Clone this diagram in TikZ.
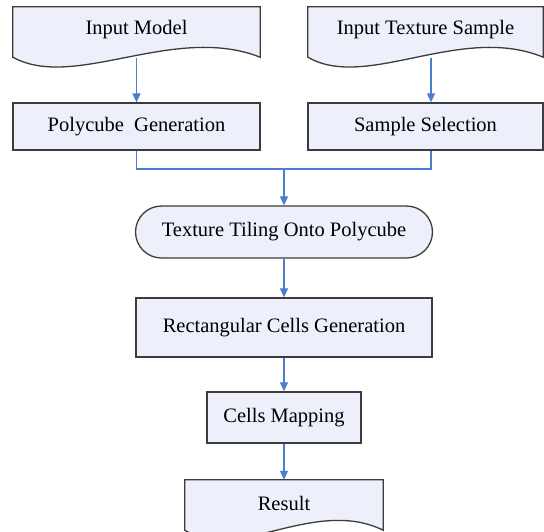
\documentclass[tikz,border=0pt]{standalone}
\usepackage{fontspec}
\setmainfont{Liberation Serif}
\usetikzlibrary{arrows.meta,calc,backgrounds}
\definecolor{boxfill}{RGB}{237,239,250}
\definecolor{boxline}{RGB}{60,60,60}
\definecolor{flowblue}{RGB}{77,125,208}

\begin{document}
\begin{tikzpicture}[x=1pt,y=-1pt,
        every node/.style={font=\fontsize{20.5}{24}\selectfont},
        proc/.style={draw=boxline,line width=1.3pt,fill=boxfill,inner sep=0pt},
        docbox/.style={inner sep=0pt},
        term/.style={proc,rounded corners=26pt},
        flow/.style={draw=flowblue,line width=1.2pt,-{Triangle[width=8pt,length=9pt]}},
        link/.style={draw=flowblue,line width=1.2pt}]
        \useasboundingbox (0,0) rectangle (544,531);
        % inputs
        \node[docbox,minimum width=247pt,minimum height=46pt] (model) at (136.5,30) {Input Model};
        \node[docbox,minimum width=235pt,minimum height=46pt] (texture) at (425.5,30) {Input Texture Sample};
        \node[proc,minimum width=247pt,minimum height=47pt] (poly) at (136.5,126.5) {Polycube~ Generation};
        \node[proc,minimum width=235pt,minimum height=47pt] (sample) at (425.5,126.5) {Sample Selection};
        % main chain
        \node[term,minimum width=297pt,minimum height=52pt] (tiling) at (284,232) {Texture Tiling Onto Polycube};
        \node[proc,minimum width=296pt,minimum height=59pt] (cells) at (284,327.5) {Rectangular Cells Generation};
        \node[proc,minimum width=154pt,minimum height=51pt] (mapping) at (284,417.5) {Cells Mapping};
        \node[docbox,minimum width=198pt,minimum height=46pt] (result) at (284,503) {Result};
        \begin{pgfonlayer}{background}
        \foreach \n in {model,texture,result}
            \draw[boxline,fill=boxfill,line width=1.3pt]
                (\n.north west) -- (\n.north east) -- ([yshift=-4pt]\n.south east)
                .. controls ($([yshift=-4pt]\n.south east)!0.35!([yshift=-4pt]\n.south west)+(0,-34)$)
                and ($([yshift=-4pt]\n.south west)!0.25!([yshift=-4pt]\n.south east)+(0,34)$)
                .. ([yshift=-4pt]\n.south west) -- cycle;
        \end{pgfonlayer}
        \coordinate (join) at (284,169);
        \draw[flow] ([yshift=-5pt]model.south) -- (poly.north);
        \draw[flow] ([xshift=5.5pt,yshift=-5pt]texture.south) -- ([xshift=5.5pt]sample.north);
        \draw[link] (poly.south) |- (join) -| ([xshift=5.5pt]sample.south);
        \draw[flow] (join) -- (tiling.north);
        \draw[flow] (tiling) -- (cells);
        \draw[flow] (cells) -- (mapping);
        \draw[flow] (mapping) -- (result);
\end{tikzpicture}
\end{document}
